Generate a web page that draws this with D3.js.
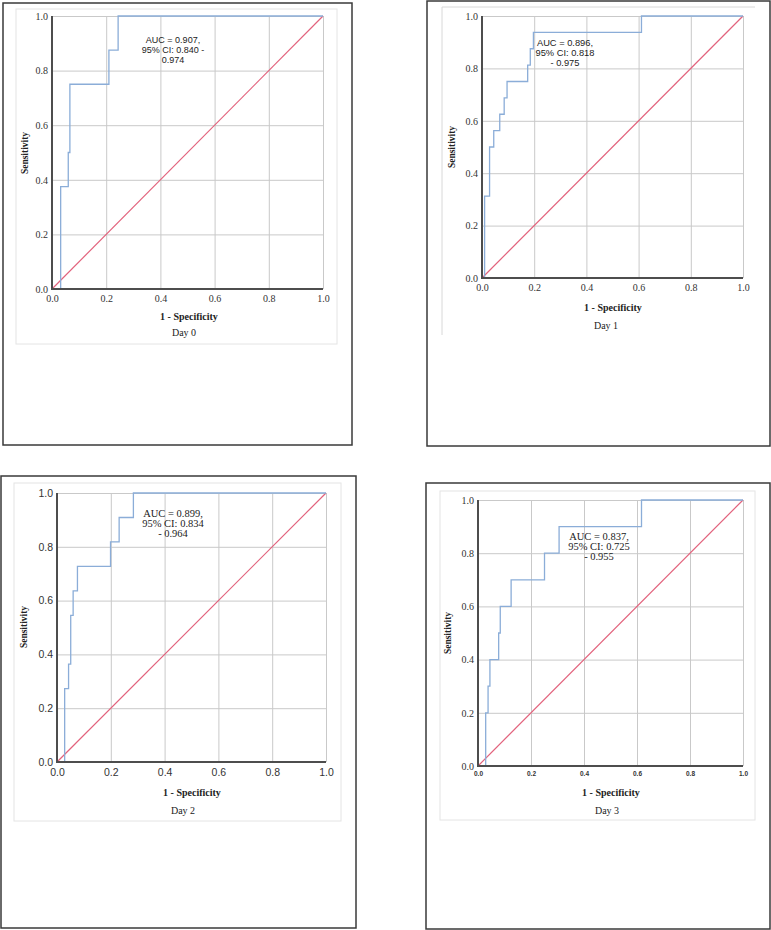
<!DOCTYPE html>
<html>
<head>
<meta charset="utf-8">
<script src="https://cdn.jsdelivr.net/npm/d3@7"></script>
<style>
    html, body { margin: 0; padding: 0; background: #fff; }
    svg { display: block; }
</style>
</head>
<body>
<svg id="chart-svg" width="771" height="930"></svg>
<script>
// ROC curves, one panel per day (1 - specificity vs sensitivity)

// Tick labels shared by every panel
const tickValues = [0, 0.2, 0.4, 0.6, 0.8, 1.0];

// Reference (chance) line
const refLine = [0, 1];

// Day 0
const day0Fpr = [0, 0.032, 0.060, 0.066, 0.210, 0.244, 1];
const day0Tpr = [0, 0.375, 0.500, 0.750, 0.875, 1.000, 1];
const day0Auc = ["AUC = 0.907,", "95% CI: 0.840 -", "0.974"];

// Day 1
const day1Fpr = [0, 0.010, 0.029, 0.045, 0.068, 0.085, 0.096, 0.175, 0.185, 0.197, 0.611, 1];
const day1Tpr = [0, 0.3125, 0.500, 0.5625, 0.625, 0.6875, 0.750, 0.8125, 0.875, 0.9375, 1.000, 1];
const day1Auc = ["AUC = 0.896,", "95% CI: 0.818", "- 0.975"];

// Day 2
const day2Fpr = [0, 0.0285, 0.043, 0.051, 0.060, 0.076, 0.199, 0.231, 0.284, 1];
const day2Tpr = [0, 0.273, 0.364, 0.545, 0.636, 0.727, 0.818, 0.909, 1.000, 1];
const day2Auc = ["AUC = 0.899,", "95% CI: 0.834", "- 0.964"];

// Day 3
const day3Fpr = [0, 0.029, 0.038, 0.045, 0.078, 0.084, 0.125, 0.251, 0.306, 0.617, 1];
const day3Tpr = [0, 0.2, 0.3, 0.4, 0.5, 0.6, 0.7, 0.8, 0.9, 1.0, 1];
const day3Auc = ["AUC = 0.837,", "95% CI: 0.725", "- 0.955"];

const panelTitles = ["Day 0", "Day 1", "Day 2", "Day 3"];
const xTitle = "1 - Specificity";
const yTitle = "Sensitivity";

const SERIF = "'Liberation Serif', 'Times New Roman', serif";
const SANS = "'Liberation Sans', Arial, sans-serif";

// Layout of the four scanned panels
const panels = [
    {
        fpr: day0Fpr, tpr: day0Tpr, aucLines: day0Auc, title: panelTitles[0],
        outer: [3, 3, 352, 445], frame: [16, 9, 337, 344], frameSides: "all",
        plot: {left: 52, right: 323, top: 16, bottom: 289},
        yTick: {font: SERIF, size: 10, dx: -4}, xTick: {font: SERIF, size: 10, y: 301.5},
        auc: {font: SANS, size: 9, x: 173, y: 42.5, lh: 10},
        xTitleY: 319.5, xTitleX: 189, dayY: 335.5, dayX: 184, yTitleX: 25, yTitleY: 153
    },
    {
        fpr: day1Fpr, tpr: day1Tpr, aucLines: day1Auc, title: panelTitles[1],
        outer: [427, 1, 770, 446], frame: [442, 7, 755, 335], frameSides: "lefttop",
        plot: {left: 482, right: 743, top: 16, bottom: 278},
        yTick: {font: SERIF, size: 10, dx: -4}, xTick: {font: SERIF, size: 10, y: 290.5},
        auc: {font: SANS, size: 9.3, x: 565, y: 46, lh: 10},
        xTitleY: 310.5, xTitleX: 613, dayY: 328.5, dayX: 606, yTitleX: 452, yTitleY: 147
    },
    {
        fpr: day2Fpr, tpr: day2Tpr, aucLines: day2Auc, title: panelTitles[2],
        outer: [1, 476, 356, 928], frame: [14, 483, 341, 821], frameSides: "all",
        plot: {left: 57, right: 326, top: 493, bottom: 762},
        yTick: {font: SANS, size: 10.5, dx: -4}, xTick: {font: SANS, size: 10.5, y: 776},
        auc: {font: SERIF, size: 10.5, x: 173, y: 517, lh: 10},
        xTitleY: 795.5, xTitleX: 192, dayY: 813.5, dayX: 183, yTitleX: 24, yTitleY: 627
    },
    {
        fpr: day3Fpr, tpr: day3Tpr, aucLines: day3Auc, title: panelTitles[3],
        outer: [426, 483, 770, 929], frame: [440, 491, 755, 820], frameSides: "all",
        plot: {left: 478, right: 743, top: 500, bottom: 766},
        yTick: {font: SERIF, size: 10, dx: -4}, xTick: {font: SANS, size: 6.5, y: 776, weight: "bold"},
        auc: {font: SERIF, size: 10.5, x: 599, y: 540, lh: 10},
        xTitleY: 795.5, xTitleX: 611, dayY: 813.5, dayX: 607, yTitleX: 448, yTitleY: 633
    }
];

const svg = d3.select("#chart-svg");

svg.append("rect")
    .attr("width", 771)
    .attr("height", 930)
    .attr("fill", "#fff");

const drawPanel = (p) => {

    const g = svg.append("g");

    // Outer page border
    g.append("rect")
        .attr("x", p.outer[0])
        .attr("y", p.outer[1])
        .attr("width", p.outer[2] - p.outer[0])
        .attr("height", p.outer[3] - p.outer[1])
        .attr("fill", "none")
        .attr("stroke", "#3a3a3a")
        .attr("stroke-width", 1.5);

    // Light frame of the pasted chart
    if (p.frameSides === "all") {
        g.append("rect")
            .attr("x", p.frame[0])
            .attr("y", p.frame[1])
            .attr("width", p.frame[2] - p.frame[0])
            .attr("height", p.frame[3] - p.frame[1])
            .attr("fill", "none")
            .attr("stroke", "#e4e4e4")
            .attr("stroke-width", 1);
    } else {
        g.append("path")
            .attr("d", "M" + p.frame[0] + "," + p.frame[3] + "V" + p.frame[1] + "H" + p.frame[2])
            .attr("fill", "none")
            .attr("stroke", "#d8d8d8")
            .attr("stroke-width", 1);
    }

    const xScale = d3.scaleLinear().domain([0, 1]).range([p.plot.left, p.plot.right]);
    const yScale = d3.scaleLinear().domain([0, 1]).range([p.plot.bottom, p.plot.top]);
    const plotH = p.plot.bottom - p.plot.top;
    const plotW = p.plot.right - p.plot.left;

    // X gridlines
    g.append("g")
        .attr("transform", "translate(0," + p.plot.bottom + ")")
        .call(d3.axisBottom(xScale).tickValues(tickValues).tickSize(-plotH).tickFormat(""))
        .call(a => a.select(".domain").remove())
        .call(a => a.selectAll("line").attr("stroke", "#c9c9c9").attr("stroke-width", 1));

    // Y gridlines
    g.append("g")
        .attr("transform", "translate(" + p.plot.left + ",0)")
        .call(d3.axisLeft(yScale).tickValues(tickValues).tickSize(-plotW).tickFormat(""))
        .call(a => a.select(".domain").remove())
        .call(a => a.selectAll("line").attr("stroke", "#c9c9c9").attr("stroke-width", 1));

    // Chance line
    g.append("path")
        .datum(refLine)
        .attr("fill", "none")
        .attr("stroke", "#e2627c")
        .attr("stroke-width", 1.2)
        .attr("d", d3.line().x(d => xScale(d)).y(d => yScale(d)));

    // ROC curve
    const pts = p.fpr.map((d, i) => [d, p.tpr[i]]);
    g.append("path")
        .datum(pts)
        .attr("fill", "none")
        .attr("stroke", "#8badd8")
        .attr("stroke-width", 1.3)
        .attr("d", d3.line()
            .x(d => xScale(d[0]))
            .y(d => yScale(d[1]))
            .curve(d3.curveStepAfter)
        );

    // Axis lines
    g.append("path")
        .attr("d", "M" + xScale(0) + "," + yScale(1) + "V" + yScale(0) + "H" + xScale(1))
        .attr("fill", "none")
        .attr("stroke", "#4d4d4d")
        .attr("stroke-width", 2);

    // Y tick labels
    const yAx = g.append("g")
        .attr("transform", "translate(" + p.plot.left + ",0)")
        .call(d3.axisLeft(yScale).tickValues(tickValues).tickSize(0).tickPadding(-p.yTick.dx).tickFormat(d3.format(".1f")));
    yAx.select(".domain").remove();
    yAx.selectAll("text")
        .attr("font-family", p.yTick.font)
        .attr("font-size", p.yTick.size)
        .attr("fill", "#333");

    // X tick labels
    const xAx = g.append("g")
        .attr("transform", "translate(0," + p.plot.bottom + ")")
        .call(d3.axisBottom(xScale).tickValues(tickValues).tickSize(0).tickFormat(d3.format(".1f")));
    xAx.select(".domain").remove();
    xAx.selectAll("text")
        .attr("y", p.xTick.y - p.plot.bottom)
        .attr("dy", null)
        .attr("font-family", p.xTick.font)
        .attr("font-size", p.xTick.size)
        .attr("font-weight", p.xTick.weight || "normal")
        .attr("fill", "#333");

    // AUC annotation
    g.append("g")
        .selectAll("text")
        .data(p.aucLines)
        .join("text")
        .attr("x", p.auc.x)
        .attr("y", (d, i) => p.auc.y + i * p.auc.lh)
        .attr("text-anchor", "middle")
        .attr("font-family", p.auc.font)
        .attr("font-size", p.auc.size)
        .attr("fill", "#222")
        .text(d => d);

    // Axis titles
    g.append("text")
        .attr("x", p.xTitleX)
        .attr("y", p.xTitleY)
        .attr("text-anchor", "middle")
        .attr("font-family", SERIF)
        .attr("font-weight", "bold")
        .attr("font-size", 10)
        .attr("fill", "#222")
        .text(xTitle);

    g.append("text")
        .attr("transform", "translate(" + p.yTitleX + "," + p.yTitleY + ") rotate(-90)")
        .attr("text-anchor", "middle")
        .attr("dominant-baseline", "central")
        .attr("font-family", SERIF)
        .attr("font-weight", "bold")
        .attr("font-size", 9.5)
        .attr("fill", "#222")
        .text(yTitle);

    // Day caption
    g.append("text")
        .attr("x", p.dayX)
        .attr("y", p.dayY)
        .attr("text-anchor", "middle")
        .attr("font-family", SERIF)
        .attr("font-size", 10)
        .attr("fill", "#222")
        .text(p.title);
};

panels.forEach(drawPanel);
</script>
</body>
</html>
